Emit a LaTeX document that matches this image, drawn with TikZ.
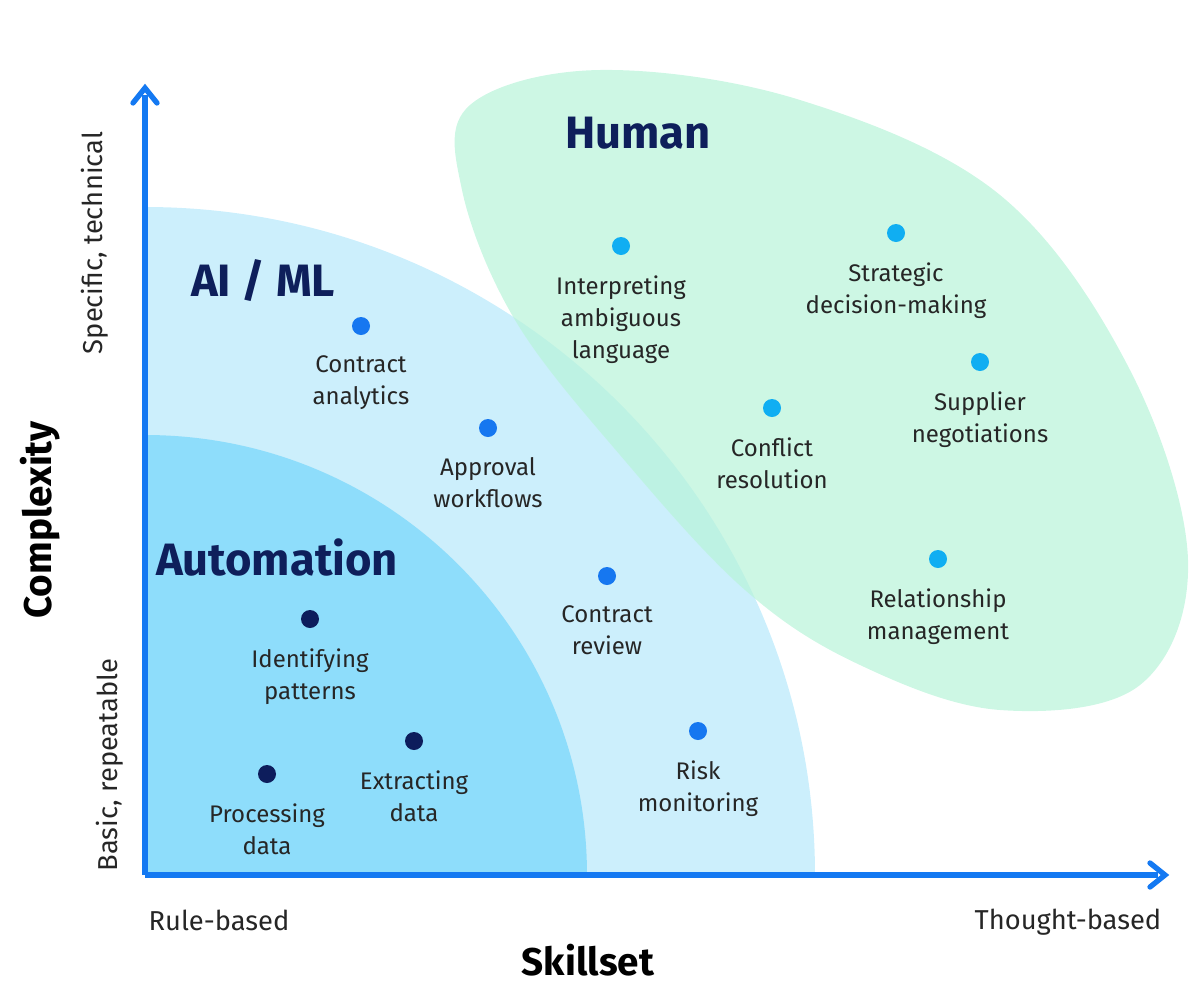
\documentclass[tikz,border=0pt]{standalone}
\usepackage{fontspec}
\setmainfont{Fira Sans}
\usetikzlibrary{positioning}
\begin{document}
\begin{tikzpicture}[x=0.75pt,y=-0.75pt,
  lab/.style={align=center,font=\fontsize{18}{24}\selectfont,text=black!85},
  alab/.style={align=center,font=\fontsize{20.5}{24}\selectfont,text=black!85},
  ttl/.style={font=\fontsize{34}{36}\selectfont\bfseries,text=navy},
  dot/.style={circle,inner sep=0pt,minimum size=13.5pt},
  ax/.style={line width=4pt,color=axblue}]
\definecolor{navy}{HTML}{0E1F5B}
\definecolor{axblue}{HTML}{1479F2}
\definecolor{autoc}{HTML}{8EDDFB}
\definecolor{aic}{HTML}{CCEFFC}
\definecolor{humc}{HTML}{B8F4D9}
\definecolor{dautoc}{HTML}{0D1D5C}
\definecolor{daic}{HTML}{1677F0}
\definecolor{dhumc}{HTML}{10AEF2}
\useasboundingbox (0,0) rectangle (1200,1000);
\fill[aic] (145,875) -- (145,207) arc[start angle=-90,end angle=0,x radius=670,y radius=668] -- cycle;
\fill[autoc] (145,875) -- (145,435) arc[start angle=-90,end angle=0,x radius=442,y radius=440] -- cycle;
\fill[humc,opacity=0.7] plot[smooth cycle,tension=0.6] coordinates {(470,105) (600,70) (800,100) (1000,195) (1130,370) (1188,560) (1140,685) (1000,710) (860,665) (745,590) (620,455) (515,320) (462,190)};
\draw[ax] (145,875) -- (145,95);
\draw[ax,line cap=round] (133,103) -- (145,88) -- (157,103);
\draw[ax] (145,875) -- (1158,875);
\draw[ax,line cap=round] (1150,863) -- (1165,875) -- (1150,887);
\node[ttl] (thum) at (638,133) {Human};
\node[ttl] (tai) at (263,281) {AI / ML};
\node[ttl] (tauto) at (277,557) {Automation};
\node[dot,fill=dautoc] (d1) at (310,619) {};
\node[lab,below=12pt of d1] {Identifying\\patterns};
\node[dot,fill=dautoc] (d2) at (414,741) {};
\node[lab,below=12pt of d2] {Extracting\\data};
\node[dot,fill=dautoc] (d3) at (267,774) {};
\node[lab,below=12pt of d3] {Processing\\data};
\node[dot,fill=daic] (a1) at (361,326) {};
\node[lab,below=12pt of a1] {Contract\\analytics};
\node[dot,fill=daic] (a2) at (488,428) {};
\node[lab,below=12pt of a2] {Approval\\workflows};
\node[dot,fill=daic] (a3) at (607,576) {};
\node[lab,below=12pt of a3] {Contract\\review};
\node[dot,fill=daic] (a4) at (698,731) {};
\node[lab,below=12pt of a4] {Risk\\monitoring};
\node[dot,fill=dhumc] (h1) at (621,246) {};
\node[lab,below=12pt of h1] {Interpreting\\ambiguous\\language};
\node[dot,fill=dhumc] (h2) at (896,233) {};
\node[lab,below=12pt of h2] {Strategic\\decision-making};
\node[dot,fill=dhumc] (h3) at (772,408) {};
\node[lab,below=12pt of h3] {Conflict\\resolution};
\node[dot,fill=dhumc] (h4) at (980,362) {};
\node[lab,below=12pt of h4] {Supplier\\negotiations};
\node[dot,fill=dhumc] (h5) at (938,559) {};
\node[lab,below=12pt of h5] {Relationship\\management};
\node[alab] (rb) at (219,920) {Rule-based};
\node[alab] (tb) at (1068,922) {Thought-based};
\node[font=\fontsize{29}{30}\selectfont\bfseries] (sk) at (588,960) {Skillset};
\node[font=\fontsize{29}{30}\selectfont\bfseries,rotate=90] (cx) at (40,520) {Complexity};
\node[alab,rotate=90] (st) at (95,243) {Specific, technical};
\node[alab,rotate=90] (br) at (110,765) {Basic, repeatable};
\end{tikzpicture}
\end{document}
